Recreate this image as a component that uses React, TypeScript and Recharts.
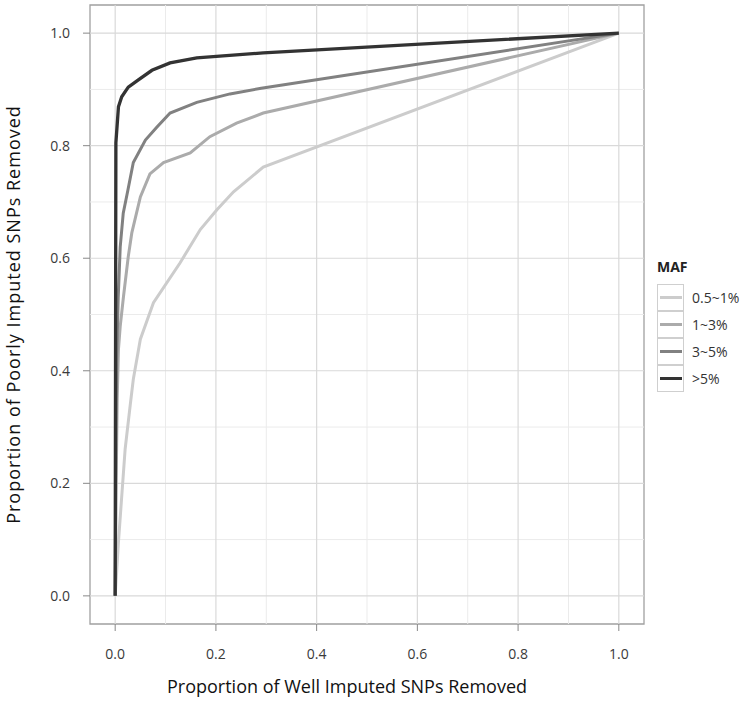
import React from 'react';
import { LineChart, Line, XAxis, YAxis, ReferenceLine, ReferenceArea } from 'recharts';

// series labels and grey levels (ggplot grey scale)
const seriesNames = ['0.5~1%', '1~3%', '3~5%', '>5%'];
const seriesColors = ['#cccccc', '#ababab', '#818181', '#333333'];
const seriesWidths = [3, 3, 3, 3.3];

// proportion of well imputed SNPs removed (x) / poorly imputed removed (y)
const maf05x = [0, 0.0065, 0.0198, 0.03, 0.036, 0.05, 0.076, 0.129, 0.169, 0.202, 0.235, 0.294, 1];
const maf05y = [0, 0.096, 0.261, 0.34, 0.385, 0.456, 0.521, 0.592, 0.651, 0.686, 0.718, 0.762, 1];

const maf1x = [0, 0.002, 0.004, 0.0065, 0.01, 0.0165, 0.026, 0.033, 0.05, 0.069, 0.096, 0.149, 0.188, 0.241, 0.294, 1];
const maf1y = [0, 0.2, 0.35, 0.438, 0.479, 0.532, 0.603, 0.645, 0.709, 0.75, 0.77, 0.787, 0.816, 0.84, 0.858, 1];

const maf3x = [0, 0.001, 0.003, 0.006, 0.01, 0.016, 0.025, 0.036, 0.06, 0.083, 0.109, 0.162, 0.228, 0.29, 1];
const maf3y = [0, 0.2, 0.42, 0.53, 0.62, 0.68, 0.72, 0.77, 0.81, 0.833, 0.858, 0.877, 0.892, 0.902, 1];

const maf5x = [0, 0.001, 0.0014, 0.0065, 0.013, 0.026, 0.046, 0.073, 0.109, 0.162, 0.294, 1];
const maf5y = [0, 0.6, 0.805, 0.869, 0.887, 0.904, 0.917, 0.934, 0.947, 0.956, 0.965, 1];

const majorTicks = [0, 0.2, 0.4, 0.6, 0.8, 1.0];
const minorTicks = [0.1, 0.3, 0.5, 0.7, 0.9];

const toPoints = (xs: number[], ys: number[]) => xs.map((x, i) => ({ x, y: ys[i] }));
const seriesData = [
  toPoints(maf05x, maf05y),
  toPoints(maf1x, maf1y),
  toPoints(maf3x, maf3y),
  toPoints(maf5x, maf5y),
];

const tickStyle = { fontFamily: "'Open Sans', sans-serif", fontSize: 14, fill: '#3a3a3a' };
const titleFont = "'Liberation Sans Narrow', 'Open Sans', sans-serif";

const App: React.FC = () => {
  return (
    <div style={{ position: 'absolute', left: 0, top: 0, width: 745, height: 701, background: '#fff' }}>
      <LineChart
        width={745}
        height={701}
        margin={{ top: 5, right: 101, bottom: 2, left: 2 }}
      >
        {/* minor grid */}
        {minorTicks.map((v) => (
          <ReferenceLine key={'mx' + v} x={v} stroke="#ebebeb" strokeWidth={1} />
        ))}
        {minorTicks.map((v) => (
          <ReferenceLine key={'my' + v} y={v} stroke="#ebebeb" strokeWidth={1} />
        ))}
        {/* major grid */}
        {majorTicks.map((v) => (
          <ReferenceLine key={'Mx' + v} x={v} stroke="#d9d9d9" strokeWidth={1.2} />
        ))}
        {majorTicks.map((v) => (
          <ReferenceLine key={'My' + v} y={v} stroke="#d9d9d9" strokeWidth={1.2} />
        ))}

        <XAxis
          dataKey="x"
          type="number"
          domain={[-0.05, 1.05]}
          ticks={majorTicks}
          tickFormatter={(v: number) => v.toFixed(1)}
          allowDataOverflow
          height={75}
          axisLine={false}
          tickSize={7}
          tickMargin={18}
          tickLine={{ stroke: '#888' }}
          tick={tickStyle}
          label={{
            value: 'Proportion of Well Imputed SNPs Removed',
            position: 'insideBottom',
            offset: 6,
            dx: -20,
            style: { fontFamily: titleFont, fontSize: 18, fill: '#111' },
          }}
        />
        <YAxis
          dataKey="y"
          type="number"
          domain={[-0.05, 1.05]}
          ticks={majorTicks}
          tickFormatter={(v: number) => v.toFixed(1)}
          allowDataOverflow
          width={88}
          axisLine={false}
          tickSize={7}
          tickMargin={13}
          tickLine={{ stroke: '#888' }}
          tick={tickStyle}
          label={{
            value: 'Proportion of Poorly Imputed SNPs Removed',
            angle: -90,
            position: 'insideLeft',
            offset: 12,
            style: { fontFamily: titleFont, fontSize: 18, fill: '#111', textAnchor: 'middle', letterSpacing: 1 },
          }}
        />

        {/* panel border */}
        <ReferenceArea x1={-0.05} x2={1.05} y1={-0.05} y2={1.05} fill="none" stroke="#a0a0a0" strokeWidth={1.3} />

        {seriesData.map((d, i) => (
          <Line
            key={seriesNames[i]}
            data={d}
            dataKey="y"
            type="linear"
            stroke={seriesColors[i]}
            strokeWidth={seriesWidths[i]}
            dot={false}
            activeDot={false}
            isAnimationActive={false}
          />
        ))}
      </LineChart>

      {/* legend */}
      <div style={{ position: 'absolute', left: 657, top: 257, fontFamily: "'Open Sans', sans-serif", color: '#222' }}>
        <div style={{ fontWeight: 'bold', fontSize: 14, height: 27, lineHeight: '20px' }}>MAF</div>
        {seriesNames.map((name, i) => (
          <div key={name} style={{ display: 'flex', alignItems: 'center', height: 27 }}>
            <div
              style={{
                width: 27,
                height: 27,
                border: '1px solid #cfcfcf',
                display: 'flex',
                alignItems: 'center',
                justifyContent: 'center',
                boxSizing: 'border-box',
              }}
            >
              <div style={{ width: 22, height: 3, background: seriesColors[i] }} />
            </div>
            <span style={{ marginLeft: 8, fontSize: 14, color: '#333' }}>{name}</span>
          </div>
        ))}
      </div>
    </div>
  );
};

export default App;
